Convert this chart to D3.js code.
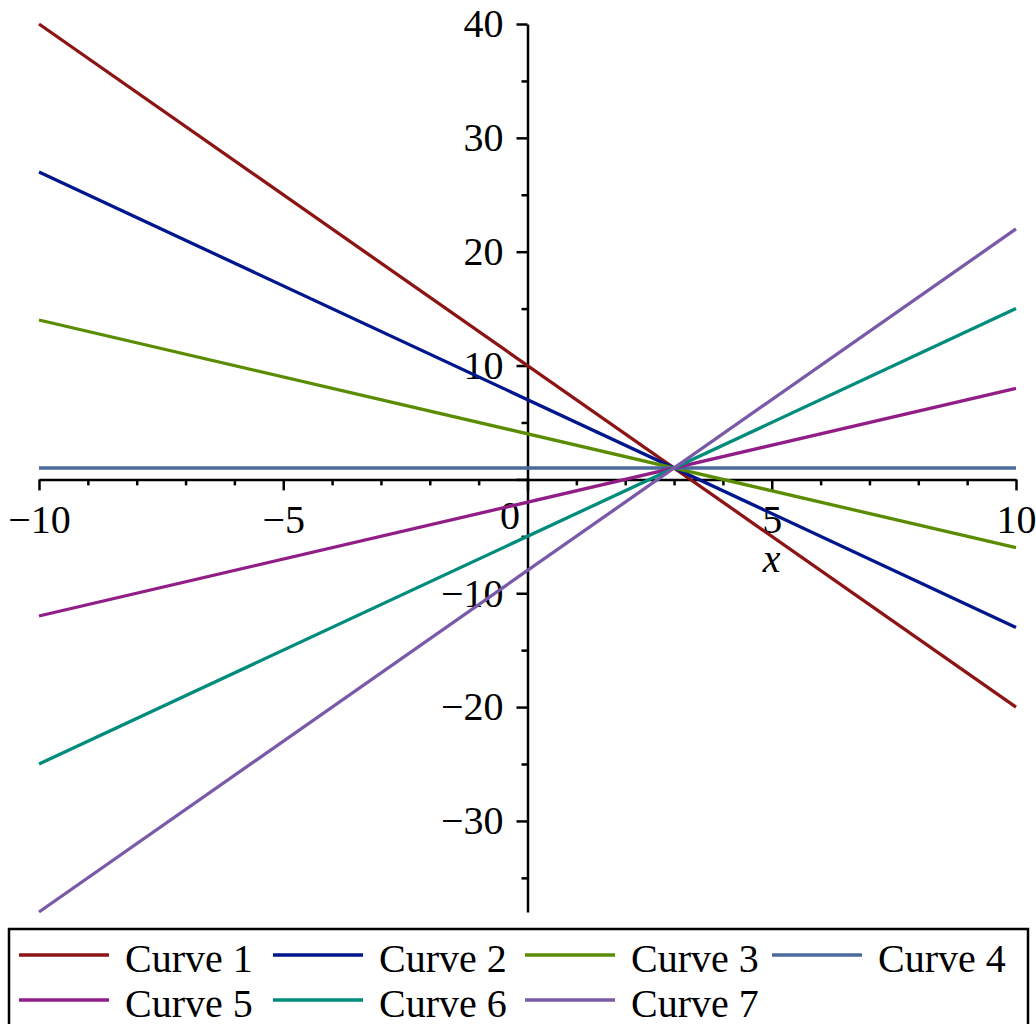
<!DOCTYPE html>
<html>
<head>
<meta charset="utf-8">
<script src="https://cdn.jsdelivr.net/npm/d3@7"></script>
<style>
	body { margin: 0; background: #fff; }
	svg text { font-family: "Times New Roman", "Liberation Serif", "DejaVu Serif", serif; }
</style>
</head>
<body>
<svg id="chart"></svg>
<script>
const curveNames = ["Curve 1", "Curve 2", "Curve 3", "Curve 4", "Curve 5", "Curve 6", "Curve 7"];
const xEnds = [-10, 10];
const yAtLeft = [40, 27, 14, 1, -12, -25, -38];
const yAtRight = [-20, -13, -6, 1, 8, 15, 22];
const curveColors = ["#8c1414", "#00168c", "#5a8c00", "#4a6a9c", "#911e87", "#008c7c", "#7a5aa8"];

const xMajorTicks = [-10, -5, 0, 5, 10];
const xMinorTicks = d3.range(-10, 11, 1).filter(v => v % 5 !== 0);
const yMajorTicks = [40, 30, 20, 10, 0, -10, -20, -30];
const yMinorTicks = [35, 25, 15, 5, -5, -15, -25, -35];

const width = 1036;
const height = 1024;
const serif = "'Times New Roman', 'Liberation Serif', 'DejaVu Serif', serif";
const fontSize = 40;

const svg = d3.select("#chart")
	.attr("width", width)
	.attr("height", height);

const x = d3.scaleLinear().domain([-10, 10]).range([39, 1016]);
const y = d3.scaleLinear().domain([-38, 40]).range([912, 24]);

// axes
const xAxis = svg.append("g")
	.attr("transform", `translate(0, ${y(0)})`)
	.call(d3.axisBottom(x).tickValues(xMajorTicks).tickSize(11).tickPadding(14).tickSizeOuter(0));

svg.append("g")
	.attr("transform", `translate(0, ${y(0)})`)
	.call(d3.axisBottom(x).tickValues(xMinorTicks).tickSize(6).tickFormat("").tickSizeOuter(0))
	.select(".domain").remove();

const yAxis = svg.append("g")
	.attr("transform", `translate(${x(0)}, 0)`)
	.call(d3.axisLeft(y).tickValues(yMajorTicks).tickSize(11).tickPadding(13).tickSizeOuter(0));

svg.append("g")
	.attr("transform", `translate(${x(0)}, 0)`)
	.call(d3.axisLeft(y).tickValues(yMinorTicks).tickSize(6).tickFormat("").tickSizeOuter(0))
	.select(".domain").remove();

svg.selectAll("g").attr("font-family", serif);

svg.selectAll(".domain, .tick line")
	.attr("stroke", "#000")
	.attr("stroke-width", 2.5);

svg.selectAll(".tick text")
	.attr("font-size", fontSize)
	.attr("fill", "#000");

// y=0 label is not drawn on the y axis, and the x=0 label is nudged left
yAxis.selectAll(".tick").filter(d => d === 0).select("text").remove();
xAxis.selectAll(".tick").filter(d => d === 0).select("text").attr("dx", -18).attr("y", 21);

svg.append("text")
	.attr("x", x(5))
	.attr("y", 572)
	.attr("text-anchor", "middle")
	.attr("font-size", fontSize)
	.attr("font-style", "italic")
	.text("x");

// curves
const curves = curveNames.map((name, i) => ({
	name: name,
	color: curveColors[i],
	points: [[xEnds[0], yAtLeft[i]], [xEnds[1], yAtRight[i]]]
}));

const line = d3.line()
	.x(d => x(d[0]))
	.y(d => y(d[1]));

svg.append("g")
	.selectAll("path")
	.data(curves)
	.enter().append("path")
	.attr("d", d => line(d.points))
	.attr("fill", "none")
	.attr("stroke", d => d.color)
	.attr("stroke-width", 3.3);

// legend
const legend = svg.append("g");

legend.append("rect")
	.attr("x", 9)
	.attr("y", 929)
	.attr("width", 1019)
	.attr("height", 120)
	.attr("fill", "none")
	.attr("stroke", "#000")
	.attr("stroke-width", 2.5);

const colX = [19, 273, 525, 772];

const legendItems = legend.selectAll(".legend-item")
	.data(curves)
	.enter().append("g")
	.attr("class", "legend-item")
	.attr("transform", (d, i) => `translate(${colX[i % 4]}, ${955 + Math.floor(i / 4) * 45})`);

legendItems.append("line")
	.attr("x1", 0)
	.attr("x2", 90)
	.attr("stroke", d => d.color)
	.attr("stroke-width", 3.5);

legendItems.append("text")
	.attr("x", 106)
	.attr("y", 17)
	.attr("font-size", fontSize)
	.text(d => d.name);
</script>
</body>
</html>
